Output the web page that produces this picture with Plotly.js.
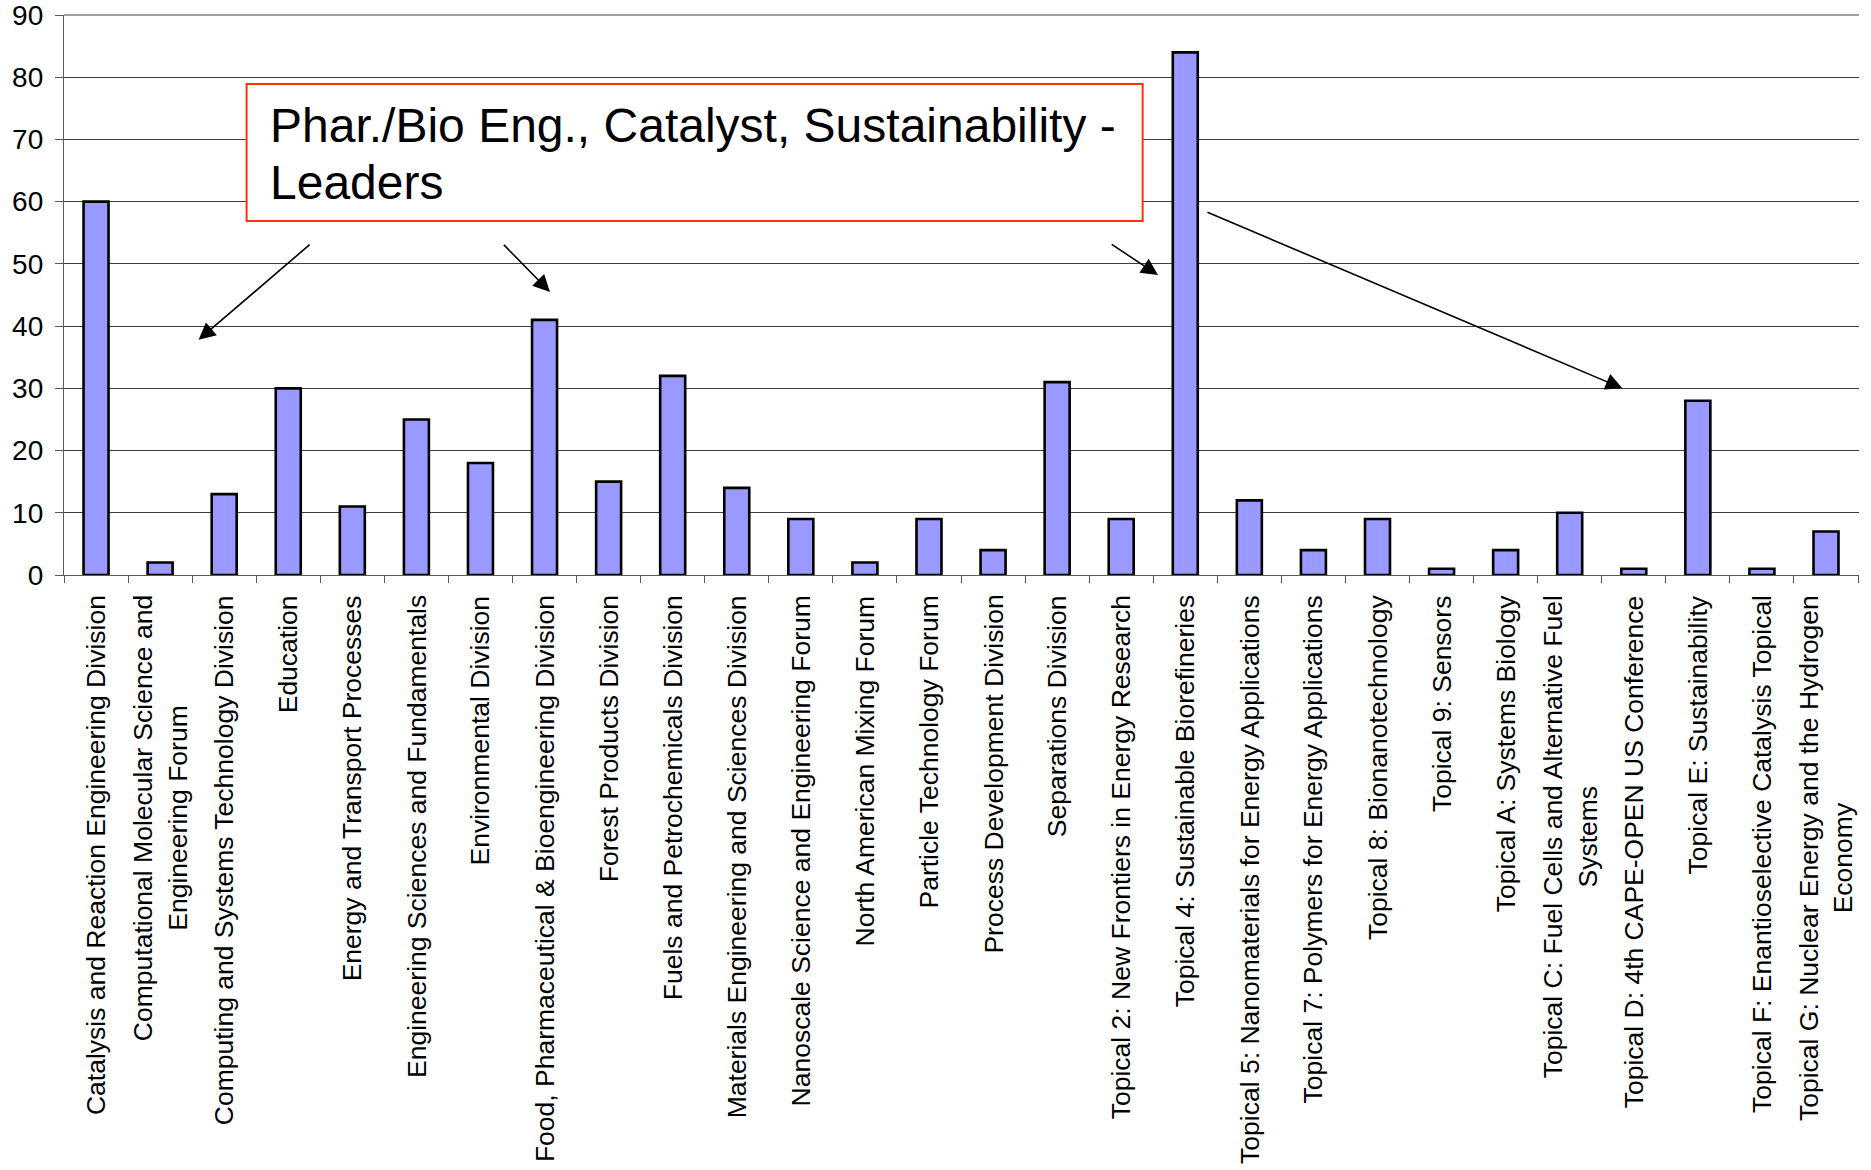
<!DOCTYPE html>
<html><head><meta charset="utf-8">
<script src="https://cdn.plot.ly/plotly-3.0.1.min.js"></script>
<style>html,body{margin:0;padding:0;background:#fff}#chart{width:1871px;height:1170px}</style>
</head><body><div id="chart"></div>
<script>
const categories = [
  "Catalysis and Reaction Engineering Division",
  "Computational Molecular Science and Engineering Forum",
  "Computing and Systems Technology Division",
  "Education",
  "Energy and Transport Processes",
  "Engineering Sciences and Fundamentals",
  "Environmental Division",
  "Food, Pharmaceutical & Bioengineering Division",
  "Forest Products Division",
  "Fuels and Petrochemicals Division",
  "Materials Engineering and Sciences Division",
  "Nanoscale Science and Engineering Forum",
  "North American Mixing Forum",
  "Particle Technology Forum",
  "Process Development Division",
  "Separations Division",
  "Topical 2: New Frontiers in Energy Research",
  "Topical 4: Sustainable Biorefineries",
  "Topical 5: Nanomaterials for Energy Applications",
  "Topical 7: Polymers for Energy Applications",
  "Topical 8: Bionanotechnology",
  "Topical 9: Sensors",
  "Topical A: Systems Biology",
  "Topical C: Fuel Cells and Alternative Fuel Systems",
  "Topical D: 4th CAPE-OPEN US Conference",
  "Topical E: Sustainability",
  "Topical F: Enantioselective Catalysis Topical",
  "Topical G: Nuclear Energy and the Hydrogen Economy"
];
const tickLabels = [
  "Catalysis and Reaction Engineering Division",
  "Computational Molecular Science and<br>Engineering Forum",
  "Computing and Systems Technology Division",
  "Education",
  "Energy and Transport Processes",
  "Engineering Sciences and Fundamentals",
  "Environmental Division",
  "Food, Pharmaceutical & Bioengineering Division",
  "Forest Products Division",
  "Fuels and Petrochemicals Division",
  "Materials Engineering and Sciences Division",
  "Nanoscale Science and Engineering Forum",
  "North American Mixing Forum",
  "Particle Technology Forum",
  "Process Development Division",
  "Separations Division",
  "Topical 2: New Frontiers in Energy Research",
  "Topical 4: Sustainable Biorefineries",
  "Topical 5: Nanomaterials for Energy Applications",
  "Topical 7: Polymers for Energy Applications",
  "Topical 8: Bionanotechnology",
  "Topical 9: Sensors",
  "Topical A: Systems Biology",
  "Topical C: Fuel Cells and Alternative Fuel<br>Systems",
  "Topical D: 4th CAPE-OPEN US Conference",
  "Topical E: Sustainability",
  "Topical F: Enantioselective Catalysis Topical",
  "Topical G: Nuclear Energy and the Hydrogen<br>Economy"
];
const counts = [60, 2, 13, 30, 11, 25, 18, 41, 15, 32, 14, 9, 2, 9, 4, 31, 9, 84, 12, 4, 9, 1, 4, 10, 1, 28, 1, 7];
const yTickValues = [0, 10, 20, 30, 40, 50, 60, 70, 80, 90];
const calloutLines = ["Phar./Bio Eng., Catalyst, Sustainability -", "Leaders"];

const FONT = "Liberation Sans, Arial, Helvetica, sans-serif";

// callout geometry (layout, in axis units)
const calloutBox = {x0: 2.35, x1: 16.335, y0: 56.9, y1: 78.9};
const calloutTextX = 2.70;
const calloutLineY = [72.26, 63.16];
const arrowDefs = [
  {x: 1.601, y: 37.8, ax: 3.357, ay: 53.3},
  {x: 7.084, y: 45.5, ax: 6.343, ay: 53.3},
  {x: 16.575, y: 48.2, ax: 15.828, ay: 53.3},
  {x: 23.823, y: 30.0, ax: 17.323, ay: 58.4}
];

const trace = {
  type: 'bar',
  x: categories,
  y: counts,
  marker: {color: '#9999FF', line: {color: '#000000', width: 2.6}},
  hoverinfo: 'x+y'
};

const annotations = [];
tickLabels.forEach((t, i) => {
  annotations.push({
    xref: 'x', yref: 'paper', x: categories[i], y: -0.034,
    text: t, textangle: -90, showarrow: false,
    xanchor: 'center', yanchor: 'top', align: 'center', borderpad: 0,
    font: {family: FONT, size: 26.5, color: '#000'}
  });
});
arrowDefs.forEach(a => {
  annotations.push({
    xref: 'x', yref: 'y', axref: 'x', ayref: 'y',
    x: a.x, y: a.y, ax: a.ax, ay: a.ay,
    text: '', showarrow: true, arrowhead: 2, arrowsize: 2.1, arrowwidth: 1.6,
    arrowcolor: '#000', standoff: 0
  });
});
calloutLines.forEach((line, i) => {
  annotations.push({
    xref: 'x', yref: 'y', x: calloutTextX, y: calloutLineY[i],
    text: line, showarrow: false, xanchor: 'left', yanchor: 'middle',
    align: 'left', borderpad: 0,
    font: {family: FONT, size: 48, color: '#000'}
  });
});

const layout = {
  width: 1871, height: 1170,
  margin: {l: 64, r: 12, t: 15, b: 595, pad: 0},
  paper_bgcolor: '#fff', plot_bgcolor: '#fff',
  showlegend: false,
  bargap: 0.61,
  xaxis: {
    type: 'category',
    showticklabels: false,
    showgrid: false,
    zeroline: false,
    showline: true, linecolor: '#5a5a5a', linewidth: 1.3,
    ticks: 'outside', ticklen: 7, tickcolor: '#5a5a5a', tickwidth: 1.3,
    tickson: 'boundaries',
    fixedrange: true
  },
  yaxis: {
    range: [0, 90],
    tickvals: yTickValues,
    ticktext: yTickValues.map(String),
    showgrid: true, gridcolor: '#3c3c3c', gridwidth: 1,
    zeroline: false,
    showline: true, linecolor: '#5a5a5a', linewidth: 1.3,
    ticks: 'outside', ticklen: 8, tickcolor: '#5a5a5a', tickwidth: 1.3,
    ticklabelstandoff: 6,
    ticklabeloverflow: 'allow',
    tickfont: {family: FONT, size: 28, color: '#000'},
    fixedrange: true
  },
  shapes: [
    {
      type: 'line', xref: 'paper', yref: 'paper', x0: 0, x1: 1, y0: 1, y1: 1,
      line: {color: '#808080', width: 1.6}, layer: 'below'
    },
    {
      type: 'rect', xref: 'x', yref: 'y',
      x0: calloutBox.x0, x1: calloutBox.x1, y0: calloutBox.y0, y1: calloutBox.y1,
      line: {color: '#FF3300', width: 2}, fillcolor: '#ffffff', layer: 'above'
    }
  ],
  annotations: annotations
};

Plotly.newPlot('chart', [trace], layout, {displayModeBar: false, responsive: false});
</script>
</body></html>
